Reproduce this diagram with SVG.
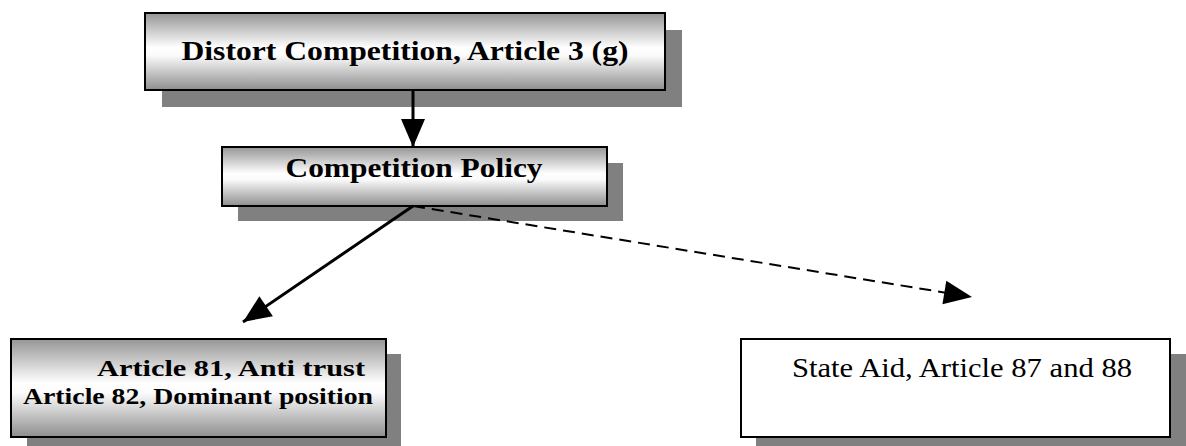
<svg xmlns="http://www.w3.org/2000/svg" width="1186" height="446" viewBox="0 0 1186 446">
  <defs>
    <linearGradient id="metal" x1="0" y1="0" x2="0" y2="1">
      <stop offset="0" stop-color="#959595"/>
      <stop offset="0.45" stop-color="#ffffff"/>
      <stop offset="0.55" stop-color="#fbfbfb"/>
      <stop offset="1" stop-color="#8e8e8e"/>
    </linearGradient>
    <marker id="head" markerUnits="userSpaceOnUse" markerWidth="30" markerHeight="26" refX="28" refY="12" orient="auto" overflow="visible">
      <path d="M0,0 L28,12 L0,24 Z" fill="#000"/>
    </marker>
  </defs>
  <style>
    .shadow { fill: #808080; }
    .box { fill: url(#metal); stroke: #000; stroke-width: 2; }
    .plain { fill: #fff; stroke: #000; stroke-width: 2; }
    .lbl { font-family: "Liberation Serif", serif; font-weight: bold; fill: #000; text-anchor: middle; }
    .reg { font-family: "Liberation Serif", serif; fill: #000; text-anchor: middle; }
    .link { stroke: #000; stroke-width: 3; fill: none; }
    .dash { stroke: #000; stroke-width: 2; fill: none; stroke-dasharray: 12 7; }
  </style>

  <g id="distort-competition">
    <rect class="shadow" x="162" y="30" width="520" height="77"/>
    <rect class="box" x="145" y="13" width="520" height="77"/>
    <text class="lbl" x="405" y="60" font-size="28" textLength="447" lengthAdjust="spacingAndGlyphs">Distort Competition, Article 3 (g)</text>
  </g>

  <g id="competition-policy">
    <rect class="shadow" x="238" y="163" width="385" height="58"/>
    <rect class="box" x="222" y="147" width="385" height="59"/>
    <text class="lbl" x="414" y="177" font-size="28" textLength="257" lengthAdjust="spacingAndGlyphs">Competition Policy</text>
  </g>

  <g id="articles-81-82">
    <rect class="shadow" x="27" y="354" width="374" height="92"/>
    <rect class="box" x="11" y="339" width="375" height="98"/>
    <text class="lbl" x="231" y="376" font-size="24" textLength="268" lengthAdjust="spacingAndGlyphs">Article 81, Anti trust</text>
    <text class="lbl" x="198" y="404" font-size="24" textLength="350" lengthAdjust="spacingAndGlyphs">Article 82, Dominant position</text>
  </g>

  <g id="state-aid">
    <rect class="shadow" x="756" y="354" width="430" height="92"/>
    <rect class="plain" x="741" y="339" width="429" height="98"/>
    <text class="reg" x="962" y="377" font-size="27" textLength="340" lengthAdjust="spacingAndGlyphs">State Aid, Article 87 and 88</text>
  </g>

  <g id="connectors">
    <line class="link" x1="413" y1="91" x2="413" y2="147" marker-end="url(#head)"/>
    <line class="link" x1="413" y1="206" x2="243" y2="322" marker-end="url(#head)"/>
    <line class="dash" x1="413" y1="206" x2="972" y2="297" marker-end="url(#head)"/>
  </g>
</svg>
